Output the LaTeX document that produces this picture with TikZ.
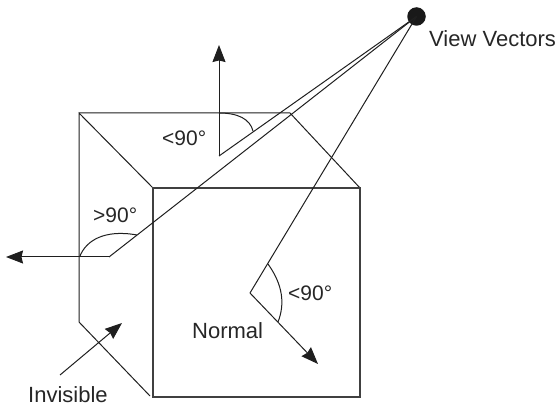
\documentclass[tikz,border=0pt]{standalone}
\usepackage{fontspec}
\setmainfont{Liberation Sans}
\usetikzlibrary{arrows.meta}
\tikzset{
  edge/.style={draw=black!88,line width=1pt,line join=miter},
  frontedge/.style={draw=black!75,line width=1.1pt},
  vec/.style={edge,-{Stealth[inset=1.5pt,length=17pt,width=13pt]}},
  lab/.style={inner sep=0pt,text=black!85,font=\fontsize{21}{24}\selectfont},
  wordlab/.style={lab,font=\fontsize{22}{25}\selectfont}
}
\begin{document}
\begin{tikzpicture}[x=1pt,y=-1pt]
\useasboundingbox (0,0) rectangle (560,406);
\coordinate (bTL) at (79,113);
\coordinate (bTR) at (290,113);
\coordinate (bBL) at (79,322);
\coordinate (bBE) at (150,396);
\coordinate (fTL) at (153,188);
\coordinate (fTR) at (360,188);
\coordinate (fBR) at (360,397);
\coordinate (eye) at (416.5,16.5);
\coordinate (pT) at (219,156);
\coordinate (pL) at (109,257);
\coordinate (pF) at (250,293);
\coordinate (nT) at (219,45);
\coordinate (nL) at (6,257);
\coordinate (nF) at (318,364);
\coordinate (iA) at (60,375);
\coordinate (iB) at (122,323);
\draw[edge] (bTL) -- (bTR) -- (fTR);
\draw[edge] (fTL) -- (bTL) -- (bBL) -- (bBE);
\draw[frontedge] (fTL) rectangle (fBR);
\node[circle,fill=black!90,minimum size=18.5pt,inner sep=0pt] (eyeN) at (eye) {};
\draw[edge] (eyeN.center) -- (pT);
\draw[edge] (eyeN.center) -- (pL);
\draw[edge] (eyeN.center) -- (pF);
\draw[vec] (pT) -- (nT);
\draw[vec] (pL) -- (nL);
\draw[vec] (pF) -- (nF);
\draw[vec] (iA) -- (iB);
\draw[edge] (219,113) .. controls (238,113) and (250,119) .. (253,131);
\draw[edge] (80,256) .. controls (86,241) and (104,229) .. (137,235);
\draw[edge] (268,264) .. controls (283,285) and (285,304) .. (278,322);
\node[wordlab,anchor=west] (v) at (429,39) {View Vectors};
\node[lab,anchor=west] (a) at (162,138) {<90°};
\node[lab,anchor=west] (b) at (93,215) {>90°};
\node[lab,anchor=west] (c) at (288,293) {<90°};
\node[wordlab,anchor=west] (d) at (192,331) {Normal};
\node[wordlab,anchor=base west] (e) at (28,402.5) {Invisible};
\end{tikzpicture}
\end{document}
